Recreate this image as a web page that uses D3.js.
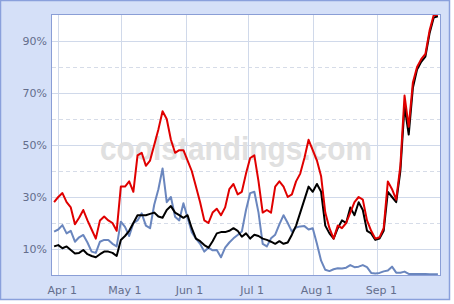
<!DOCTYPE html>
<html><head><meta charset="utf-8">
<script src="https://cdn.jsdelivr.net/npm/d3@7"></script>
<style>body{margin:0;background:#fff}svg{display:block}</style>
</head><body><svg id="c" width="454" height="304"></svg>
<script>
// ---- data ----
const startDate = "2008-03-30";   // first observation
const stepDays = 2;               // spacing between observations
const redValues = [28,30,31.5,28,26,19.5,22,25,21,17.5,14,21,22.5,21,20,17,34,34,36,32,46,47,42,44,50,56,63,60,52,47,48,48,44,40,34,28,21,20,24,25.5,23,26,33,35,31,32,39,45,46,36,24,25,24,34,36,34,30,31,36,39,45,52,48,44,38,24,18,14,19,18,20,24,28,30,29,21,17,14,14.5,18,36,33,29,42,69,57,74,80,83,85,94,100,100];
const blackValues = [11,11.5,10.3,11,9.6,8.3,8.5,9.6,8,7.3,6.8,8,9,9,8.5,7.3,13.5,15,17,20,23,23,23,23.5,24,22.5,22,25,26.5,24,23,22,23,18,14,13,11.5,10.5,13,16,16.5,16.5,17,18,17,14.7,16,14,15.5,15,14,13.5,12.8,12,13,12,12.5,15.5,19,24,29,34,32,35,32,19,16,14,18,21,20,26,23,28,25,17,16,13.5,14,17,32,30,28,40,65,54,72,79,82,84,93,99,99.5];
const blueValues = [16.7,17.5,19.2,16,17,12.8,14.5,15.4,12.5,9,8.5,12.8,13.5,13.5,12,11,20.5,18.5,15,19.9,21,23.7,19,18,27,33,41,28,30,22.4,21,27.6,22,16.5,14,12,9,10.5,9.5,9.6,6.8,10.5,12.5,14.1,15.4,16.7,25,31.5,32,24,12,11,14.1,15.5,19.5,23,20,16.7,18.3,18.7,18.8,17.5,18,12,5.5,2,1.5,2.2,2.6,2.5,2.8,3.8,3,3.2,3.8,3,0.8,0.6,0.8,1.4,1.7,3.2,0.9,0.9,1.3,0.4,0.4,0.4,0.4,0.4,0.3,0.3,0.3];
const majorYTicks = [10,30,50,70,90];
const minorYTicks = [20,40,60,80];
const xTickDates = ["2008-04-01","2008-05-01","2008-06-01","2008-07-01","2008-08-01","2008-09-01"];
const xTickLabels = ["Apr 1","May 1","Jun 1","Jul 1","Aug 1","Sep 1"];
const watermark = "coolstandings.com";

// ---- chart ----
const svg = d3.select("#c");
const m = {left: 52, top: 15, right: 440, bottom: 275};
const parse = d3.timeParse("%Y-%m-%d");
const t0 = parse(startDate);
const mk = vals => vals.map((v, i) => ({date: d3.timeDay.offset(t0, i * stepDays), v}));

const x = d3.scaleTime().domain([parse("2008-03-29"), parse("2008-10-01")]).range([m.left, m.right]);
const y = d3.scaleLinear().domain([0, 100]).range([m.bottom, m.top]);

// outer background
svg.append("rect").attr("x", 0.5).attr("y", 0.5).attr("width", 449).attr("height", 299)
  .attr("fill", "#d5e0f8").attr("stroke", "#8aa0dc").attr("stroke-width", 1.5);
// plot area
svg.append("rect").attr("x", m.left).attr("y", m.top).attr("width", m.right - m.left).attr("height", m.bottom - m.top)
  .attr("fill", "#ffffff");

svg.append("defs").append("clipPath").attr("id", "clip").append("rect")
  .attr("x", m.left).attr("y", m.top).attr("width", m.right - m.left).attr("height", m.bottom - m.top);

// grid
const g = svg.append("g");
g.selectAll(".minor").data(minorYTicks).join("line")
  .attr("x1", m.left).attr("x2", m.right)
  .attr("y1", d => Math.round(y(d)) + 0.5).attr("y2", d => Math.round(y(d)) + 0.5)
  .attr("stroke", "#d6dce8").attr("stroke-dasharray", "4,3");
g.selectAll(".major").data(majorYTicks).join("line")
  .attr("x1", m.left).attr("x2", m.right)
  .attr("y1", d => Math.round(y(d)) + 0.5).attr("y2", d => Math.round(y(d)) + 0.5)
  .attr("stroke", "#d0d9ea");
g.selectAll(".vx").data(xTickDates).join("line")
  .attr("x1", d => Math.round(x(parse(d))) + 0.5).attr("x2", d => Math.round(x(parse(d))) + 0.5)
  .attr("y1", m.top).attr("y2", m.bottom)
  .attr("stroke", "#d0d9ea");

// watermark
svg.append("text").attr("x", 236).attr("y", 160)
  .attr("text-anchor", "middle").attr("font-family", "Arial, 'Liberation Sans', sans-serif")
  .attr("font-weight", "bold").attr("font-size", 34).attr("fill", "#e0e0e0")
  .attr("textLength", 272).attr("lengthAdjust", "spacingAndGlyphs")
  .text(watermark);

// lines
const line = d3.line().x(d => x(d.date)).y(d => y(d.v));
const lines = svg.append("g").attr("clip-path", "url(#clip)");
lines.append("path").datum(mk(blueValues)).attr("d", line).attr("fill", "none")
  .attr("stroke", "#6a86be").attr("stroke-width", 2).attr("stroke-linejoin", "round");
lines.append("path").datum(mk(blackValues)).attr("d", line).attr("fill", "none")
  .attr("stroke", "#000000").attr("stroke-width", 2).attr("stroke-linejoin", "round");
lines.append("path").datum(mk(redValues)).attr("d", line).attr("fill", "none")
  .attr("stroke", "#e00000").attr("stroke-width", 2).attr("stroke-linejoin", "round");

// plot border
svg.append("rect").attr("x", m.left - 0.5).attr("y", m.top - 0.5)
  .attr("width", m.right - m.left + 1).attr("height", m.bottom - m.top + 1)
  .attr("fill", "none").attr("stroke", "#8a9ed6");

// y labels
svg.append("g").selectAll("text").data(majorYTicks).join("text")
  .attr("x", 47).attr("y", d => y(d) + 4)
  .attr("text-anchor", "end").attr("font-family", "'DejaVu Sans', Verdana, sans-serif")
  .attr("font-size", 11).attr("fill", "#646e8c")
  .text(d => d + "%");
// x labels
svg.append("g").selectAll("text").data(xTickDates).join("text")
  .attr("x", d => x(parse(d)) + 4).attr("y", 294)
  .attr("text-anchor", "middle").attr("font-family", "'DejaVu Sans', Verdana, sans-serif")
  .attr("font-size", 11).attr("fill", "#646e8c")
  .text((d, i) => xTickLabels[i]);
</script></body></html>
